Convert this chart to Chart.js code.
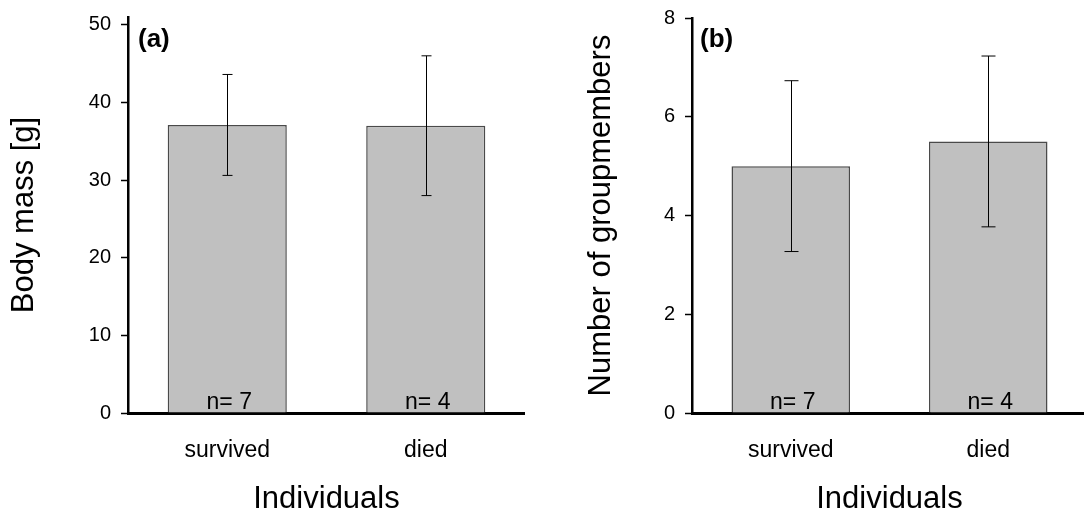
<!DOCTYPE html>
<html><head><meta charset="utf-8">
<script src="https://cdn.jsdelivr.net/npm/chart.js@4"></script>
<style>
html,body{margin:0;padding:0;overflow:hidden;background:#fff;width:1084px;height:513px;position:relative;}
#wa{position:absolute;left:0;top:0;width:525px;height:513px;}
#wb{position:absolute;left:560px;top:0;width:527px;height:513px;}
</style></head><body>
<div id="wa"><canvas id="ca"></canvas></div>
<div id="wb"><canvas id="cb"></canvas></div>
<script>
const categories = ['survived', 'died'];
const nLabels = ['n= 7', 'n= 4'];
const massMean = [37.1, 37.0];
const massSD = [6.5, 9.0];
const groupMean = [5.0, 5.5];
const groupSD = [1.73, 1.73];
const massTicks = [0, 10, 20, 30, 40, 50];
const groupTicks = [0, 2, 4, 6, 8];

const FONT = "'Liberation Sans', Arial, sans-serif";

const extrasPlugin = {
  id: 'extras',
  afterDatasetsDraw(chart, args, opts) {
    const ctx = chart.ctx;
    const meta = chart.getDatasetMeta(0);
    const ys = chart.scales.y;
    const ds = chart.data.datasets[0];
    ctx.save();
    // error bars
    ctx.strokeStyle = '#000';
    ctx.lineWidth = 1;
    meta.data.forEach((bar, i) => {
      const v = ds.data[i], sd = opts.sd[i];
      const x = Math.round(bar.x) + 0.5;
      const yTop = ys.getPixelForValue(v + sd);
      const yBot = ys.getPixelForValue(v - sd);
      ctx.beginPath();
      ctx.moveTo(x, yTop); ctx.lineTo(x, yBot);
      ctx.moveTo(x - opts.cap, yTop); ctx.lineTo(x + opts.cap, yTop);
      ctx.moveTo(x - opts.cap, yBot); ctx.lineTo(x + opts.cap, yBot);
      ctx.stroke();
    });
    // n labels
    ctx.fillStyle = '#000';
    ctx.font = '23px ' + FONT;
    ctx.textAlign = 'center';
    ctx.textBaseline = 'alphabetic';
    const y0 = ys.getPixelForValue(0);
    meta.data.forEach((bar, i) => {
      ctx.fillText(nLabels[i], bar.x + 2, y0 - 4);
    });
    // panel letter
    ctx.font = 'bold 26px ' + FONT;
    ctx.textAlign = 'left';
    ctx.textBaseline = 'middle';
    ctx.fillText(opts.letter, chart.chartArea.left + opts.lx, opts.ly);
    ctx.restore();
  }
};

function makeChart(id, values, sd, ticks, ymax, yTitle, yWidth, titlePad, padTop, letter, lx, cap) {
  return new Chart(document.getElementById(id), {
    type: 'bar',
    data: {
      labels: categories,
      datasets: [{
        data: values,
        backgroundColor: '#c0c0c0',
        borderColor: '#4a4a4a',
        borderWidth: 1.5,
        borderSkipped: 'bottom',
        barPercentage: 0.6,
        categoryPercentage: 1.0
      }]
    },
    options: {
      responsive: true,
      maintainAspectRatio: false,
      animation: false,
      layout: { padding: { top: padTop, right: 0, left: 0, bottom: 0 } },
      plugins: {
        legend: { display: false },
        tooltip: { enabled: false },
        extras: { sd: sd, cap: cap, letter: letter, lx: lx, ly: 40 }
      },
      scales: {
        x: {
          grid: { display: false, drawTicks: false },
          border: { display: true, color: '#000', width: 3 },
          ticks: { color: '#000', font: { family: FONT, size: 23 }, padding: 24 },
          title: { display: true, text: 'Individuals', color: '#000',
                   font: { family: FONT, size: 31, lineHeight: 1 }, padding: { top: 0, bottom: -2 } },
          afterFit(scale) { scale.height = 100; scale.paddingLeft = 0; scale.paddingRight = 0; }
        },
        y: {
          min: 0, max: ymax,
          afterBuildTicks(scale) { scale.ticks = ticks.map(v => ({ value: v })); },
          grid: { drawOnChartArea: false, drawTicks: true, tickLength: 7, tickColor: '#000', tickWidth: 1.5 },
          border: { display: true, color: '#000', width: 2.5 },
          ticks: { color: '#000', font: { family: FONT, size: 20 }, padding: 10 },
          title: { display: true, text: yTitle, color: '#000',
                   font: { family: FONT, size: 31, lineHeight: 1 }, padding: { top: titlePad, bottom: 0 } },
          afterFit(scale) { scale.width = yWidth; scale.paddingTop = 0; scale.paddingBottom = 0; }
        }
      }
    },
    plugins: [extrasPlugin]
  });
}

makeChart('ca', massMean, massSD, massTicks, 51, 'Body mass [g]', 128, 8.5, 17, '(a)', 10, 5);
makeChart('cb', groupMean, groupSD, groupTicks, 8, 'Number of groupmembers', 132, 25.5, 18, '(b)', 8, 7);
</script>
</body></html>
